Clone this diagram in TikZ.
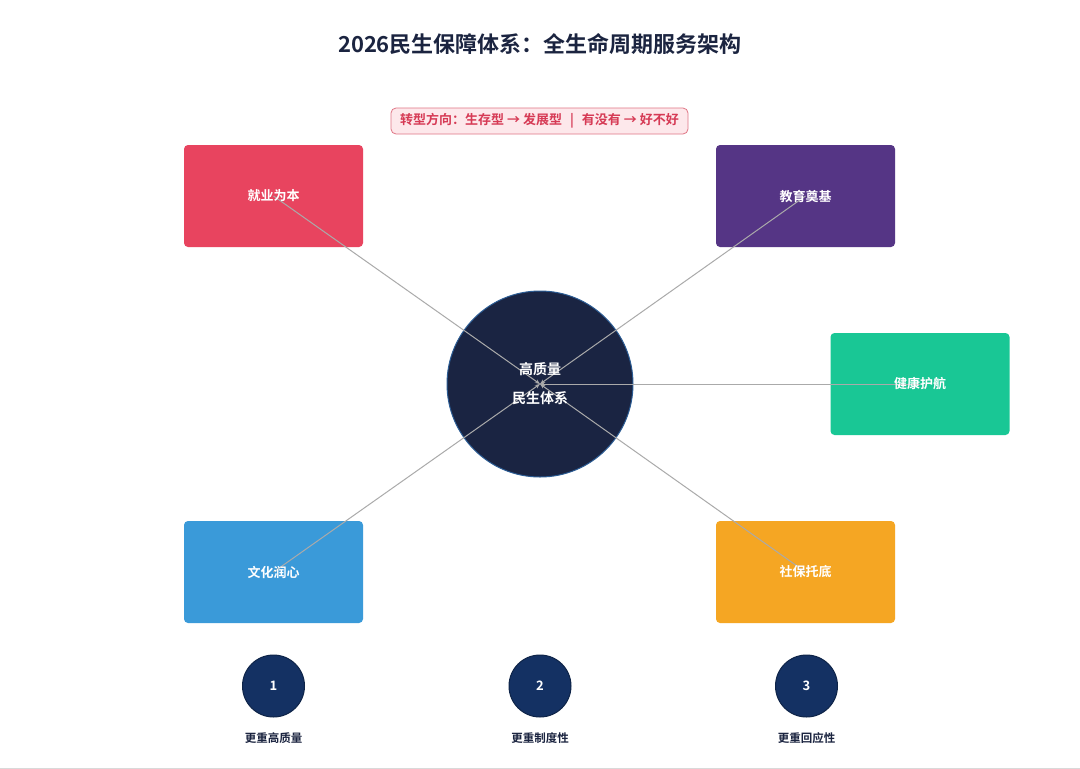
\documentclass[tikz,border=0pt]{standalone}
\usepackage{fontspec}
\setmainfont{Noto Sans CJK SC}[BoldFont={Noto Sans CJK SC Bold}]
\usetikzlibrary{arrows.meta}
\definecolor{navy}{HTML}{1B2440}
\definecolor{hubfill}{HTML}{1A2442}
\definecolor{hubline}{HTML}{2B5C94}
\definecolor{c1}{HTML}{E8445F}
\definecolor{c2}{HTML}{553585}
\definecolor{c3}{HTML}{19C795}
\definecolor{c4}{HTML}{3A9AD9}
\definecolor{c5}{HTML}{F5A623}
\definecolor{dotfill}{HTML}{143163}
\definecolor{dotline}{HTML}{0E2448}
\definecolor{bannerfill}{HTML}{FDE8EB}
\definecolor{bannerline}{HTML}{E07585}
\definecolor{bannertext}{HTML}{D63A55}
\definecolor{linkgray}{HTML}{AAAAAA}
\tikzset{
  x=1pt,y=-1pt,
  pillar/.style={rounded corners=4pt,minimum width=179pt,minimum height=102pt,inner sep=0pt},
  pillartext/.style={text=white,font=\bfseries\fontsize{13}{15}\selectfont},
  link/.style={draw=linkgray,line width=1pt,-{Stealth[length=5pt,width=4pt]}},
  dot/.style={circle,fill=dotfill,draw=dotline,line width=1pt,minimum size=62pt,inner sep=0pt,text=white,font=\bfseries\fontsize{13}{15}\selectfont},
  dotlabel/.style={text=navy,font=\bfseries\fontsize{11.5}{13}\selectfont},
}
\begin{document}
\begin{tikzpicture}
\useasboundingbox (0,0) rectangle (1080,769);
\fill[white] (0,0) rectangle (1080,769);
\draw[black!15,line width=1pt] (0,768) -- (1080,768);
% title
\node[text=navy,font=\bfseries\fontsize{22}{26}\selectfont] (title) at (540,44) {2026民生保障体系：全生命周期服务架构};
% banner
\node[draw=bannerline,fill=bannerfill,rounded corners=5pt,line width=0.8pt,minimum width=297pt,minimum height=26pt,inner sep=0pt,text=bannertext,font=\bfseries\fontsize{13}{15}\selectfont] (banner) at (539.5,121) {转型方向：生存型 → 发展型 \ \,|\, \ 有没有 → 好不好};
% pillars
\node[pillar,fill=c1] (p1) at (273.5,196) {};
\node[pillar,fill=c2] (p2) at (805.5,196) {};
\node[pillar,fill=c3] (p3) at (920,384) {};
\node[pillar,fill=c4] (p4) at (273.5,572) {};
\node[pillar,fill=c5] (p5) at (805.5,572) {};
% hub
\node[circle,fill=hubfill,draw=hubline,line width=1pt,minimum size=186pt,inner sep=0pt] (hub) at (540,384) {};
% links
\draw[link] (p1.center) -- (hub.center);
\draw[link] (p2.center) -- (hub.center);
\draw[link] (p3.center) -- (hub.center);
\draw[link] (p4.center) -- (hub.center);
\draw[link] (p5.center) -- (hub.center);
% texts
\node[pillartext] (t1) at (p1.center) {就业为本};
\node[pillartext] (t2) at (p2.center) {教育奠基};
\node[pillartext] (t3) at (p3.center) {健康护航};
\node[pillartext] (t4) at (p4.center) {文化润心};
\node[pillartext] (t5) at (p5.center) {社保托底};
\node[text=white,font=\bfseries\fontsize{14}{16}\selectfont] (h1) at (540,369) {高质量};
\node[text=white,font=\bfseries\fontsize{14}{16}\selectfont] (h2) at (540,398) {民生体系};
% bottom principles
\node[dot] (d1) at (273.5,686) {1};
\node[dot] (d2) at (540,686) {2};
\node[dot] (d3) at (806.5,686) {3};
\node[dotlabel] (l1) at (273.5,738) {更重高质量};
\node[dotlabel] (l2) at (540,738) {更重制度性};
\node[dotlabel] (l3) at (806.5,738) {更重回应性};
\end{tikzpicture}
\end{document}
